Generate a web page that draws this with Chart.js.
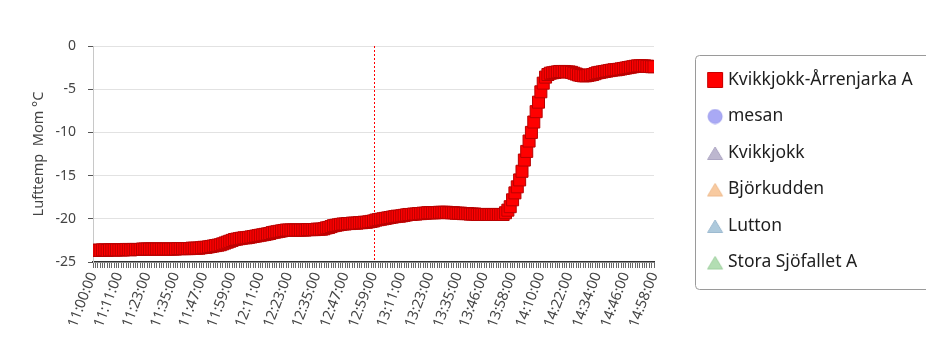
<!DOCTYPE html>
<html><head><meta charset="utf-8">
<script src="https://cdn.jsdelivr.net/npm/chart.js@4/dist/chart.umd.min.js"></script>
<style>html,body{margin:0;padding:0;background:#fff;overflow:hidden}#wrap{width:926px;height:340px}</style>
</head><body><div id="wrap"><canvas id="c" width="926" height="340"></canvas></div>
<script>
// ---- data ----
const firstMinute = "11:00";
const lastMinute = "14:58";
const categories = [];
(function () {
  const [h0, m0] = firstMinute.split(':').map(Number);
  const [h1, m1] = lastMinute.split(':').map(Number);
  for (let m = h0 * 60 + m0; m <= h1 * 60 + m1; m++) {
    categories.push(String(Math.floor(m / 60)).padStart(2, '0') + ':' + String(m % 60).padStart(2, '0') + ':00');
  }
})();
const tickLabels = ["11:00:00","11:11:00","11:23:00","11:35:00","11:47:00","11:59:00","12:11:00","12:23:00","12:35:00","12:47:00","12:59:00","13:11:00","13:23:00","13:35:00","13:46:00","13:58:00","14:10:00","14:22:00","14:34:00","14:46:00","14:58:00"];
const yTicks = [0, -5, -10, -15, -20, -25];
const seriesNames = ["Kvikkjokk-Årrenjarka A", "mesan", "Kvikkjokk", "Björkudden", "Lutton", "Stora Sjöfallet A"];
const kvikkjokkArrenjarka = [
  -23.65,-23.65,-23.65,-23.65,-23.6,-23.6,-23.65,-23.6,-23.6,-23.6,
  -23.6,-23.6,-23.6,-23.6,-23.55,-23.55,-23.6,-23.55,-23.55,-23.55,
  -23.55,-23.5,-23.5,-23.5,-23.5,-23.5,-23.5,-23.5,-23.5,-23.5,
  -23.5,-23.5,-23.5,-23.5,-23.5,-23.5,-23.45,-23.45,-23.45,-23.45,
  -23.45,-23.45,-23.4,-23.4,-23.4,-23.4,-23.35,-23.3,-23.3,-23.25,
  -23.2,-23.15,-23.1,-23.05,-23.0,-22.9,-22.8,-22.7,-22.6,-22.5,
  -22.4,-22.35,-22.3,-22.25,-22.2,-22.2,-22.15,-22.1,-22.05,-22.0,
  -21.95,-21.9,-21.85,-21.8,-21.75,-21.7,-21.6,-21.55,-21.5,-21.45,
  -21.4,-21.35,-21.3,-21.3,-21.3,-21.3,-21.3,-21.3,-21.3,-21.3,
  -21.3,-21.25,-21.25,-21.25,-21.25,-21.2,-21.2,-21.2,-21.15,-21.05,
  -21.0,-20.9,-20.8,-20.75,-20.7,-20.65,-20.6,-20.6,-20.55,-20.55,
  -20.5,-20.5,-20.5,-20.45,-20.45,-20.4,-20.4,-20.35,-20.3,-20.25,
  -20.15,-20.1,-20.05,-20.0,-19.95,-19.9,-19.85,-19.8,-19.75,-19.7,
  -19.7,-19.65,-19.6,-19.55,-19.5,-19.5,-19.45,-19.45,-19.4,-19.4,
  -19.35,-19.35,-19.3,-19.3,-19.3,-19.3,-19.3,-19.25,-19.25,-19.25,
  -19.25,-19.3,-19.3,-19.3,-19.35,-19.35,-19.35,-19.4,-19.4,-19.4,
  -19.45,-19.45,-19.45,-19.5,-19.5,-19.5,-19.5,-19.5,-19.5,-19.5,
  -19.5,-19.5,-19.5,-19.5,-19.5,-19.3,-19.0,-18.6,-17.8,-17.0,
  -16.3,-15.5,-14.5,-13.2,-12.2,-11.0,-10.0,-8.8,-7.6,-6.5,
  -5.3,-4.3,-3.6,-3.3,-3.15,-3.1,-3.05,-3.0,-2.95,-2.95,
  -2.95,-3.0,-3.0,-3.05,-3.15,-3.25,-3.35,-3.4,-3.45,-3.45,
  -3.4,-3.35,-3.3,-3.2,-3.1,-3.05,-3.0,-2.95,-2.9,-2.85,
  -2.8,-2.75,-2.75,-2.7,-2.65,-2.6,-2.55,-2.5,-2.45,-2.4,
  -2.35,-2.3,-2.3,-2.3,-2.3,-2.35,-2.35,-2.4,-2.4
];
const mesan = [];
const kvikkjokk = [];
const bjorkudden = [];
const lutton = [];
const storaSjofallet = [];
const markerTime = "12:59:00";

// ---- legend icons (icon drawn right of the image centre) ----
function makeIcon(shape, fill, stroke) {
  const c = document.createElement('canvas');
  c.width = 56; c.height = 16;
  const g = c.getContext('2d');
  g.translate(39, 0);
  g.fillStyle = fill; g.strokeStyle = stroke; g.lineWidth = 1;
  g.beginPath();
  if (shape === 'rect') { g.rect(0.5, 0.5, 15, 15); }
  else if (shape === 'circle') { g.arc(8, 8, 7, 0, Math.PI * 2); }
  else { g.moveTo(8, 2); g.lineTo(15.5, 14.5); g.lineTo(0.5, 14.5); g.closePath(); }
  g.fill(); g.stroke();
  return c;
}
const icons = [
  makeIcon('rect', '#ff0000', '#c80000'),
  makeIcon('circle', '#a9a9f5', '#9c9cec'),
  makeIcon('tri', '#bdb7cf', '#aca5c2'),
  makeIcon('tri', '#f8caa0', '#eebb8e'),
  makeIcon('tri', '#adc9dc', '#9dbad0'),
  makeIcon('tri', '#b3deb3', '#a0d0a0')
];

const markerPlugin = {
  id: 'markerLine',
  beforeDatasetsDraw(chart) {
    const xs = chart.scales.x;
    const x = Math.round(xs.getPixelForValue(categories.indexOf(markerTime))) + 0.5;
    const {top, bottom} = chart.chartArea;
    const g = chart.ctx;
    g.save();
    g.strokeStyle = '#ff0000'; g.lineWidth = 1; g.setLineDash([2, 2]);
    g.beginPath(); g.moveTo(x, top); g.lineTo(x, bottom); g.stroke();
    g.restore();
  }
};
const legendBox = {
  id: 'legendBox',
  afterLayout(chart) {
    // let the legend text run to the canvas edge instead of being clipped
    chart.legend.right = chart.width;
    chart.legend.width = chart.legend.right - chart.legend.left;
  },
  afterDraw(chart) {
    const hb = chart.legend.legendHitBoxes;
    if (!hb || !hb.length) return;
    const g = chart.ctx;
    const left = Math.round(chart.legend.left + 41) + 0.5;
    const top = Math.round(hb[0].top + hb[0].height / 2 - 25) + 0.5;
    const bottom = Math.round(hb[hb.length - 1].top + hb[hb.length - 1].height / 2 + 26) + 0.5;
    g.save();
    g.strokeStyle = '#9a9a9a'; g.lineWidth = 1;
    g.beginPath();
    g.roundRect(left, top, 300, bottom - top, 4);
    g.stroke();
    g.restore();
  }
};

const sets = [kvikkjokkArrenjarka, mesan, kvikkjokk, bjorkudden, lutton, storaSjofallet];
new Chart(document.getElementById('c'), {
  type: 'line',
  data: {
    labels: categories,
    datasets: sets.map((d, i) => ({
      label: seriesNames[i],
      data: d,
      showLine: false,
      pointStyle: i === 0 ? 'rect' : (i === 1 ? 'circle' : 'triangle'),
      pointRadius: 8.5,
      pointBackgroundColor: i === 0 ? '#ff0000' : '#aaa',
      pointBorderColor: i === 0 ? '#b80000' : '#999',
      pointBorderWidth: 1,
      borderColor: '#b80000',
      backgroundColor: '#ff0000',
      clip: 0
    }))
  },
  options: {
    responsive: false,
    animation: false,
    layout: { padding: { top: 2.5, right: 54, left: 0, bottom: 0 } },
    plugins: {
      tooltip: { enabled: false },
      legend: {
        position: 'right',
        labels: {
          usePointStyle: true,
          pointStyleWidth: 46.25, boxHeight: 16,
          padding: 19,
          color: '#1e1e1e',
          font: { family: 'Noto Sans', size: 17.5 },
          generateLabels: (chart) => seriesNames.map((n, i) => ({
            text: n, pointStyle: icons[i], fillStyle: '#fff', strokeStyle: '#fff',
            lineWidth: 0, hidden: false, datasetIndex: i, fontColor: '#1e1e1e'
          }))
        }
      }
    },
    scales: {
      x: {
        type: 'category',
        grid: { drawOnChartArea: false, drawTicks: true, tickLength: 6, color: '#666', tickColor: '#666' },
        border: { color: '#333', width: 1.5 },
        ticks: {
          autoSkip: false, minRotation: 69, maxRotation: 69, padding: 2,
          color: '#444', font: { family: 'Noto Sans', size: 14.5 },
          callback: function (v) { const l = this.getLabelForValue(v); return tickLabels.includes(l) ? l : ''; }
        },
        afterFit: (s) => { s.height = 78; }
      },
      topSpace: {
        type: 'linear', position: 'top', display: true,
        ticks: { display: false }, grid: { display: false }, border: { display: false },
        afterFit: (s) => { s.height = 43.5; }
      },
      y: {
        min: Math.min(...yTicks), max: Math.max(...yTicks),
        ticks: { stepSize: 5, padding: 12, color: '#444', font: { family: 'Noto Sans', size: 14 } },
        grid: { color: '#e2e2e2', tickColor: '#555', tickLength: 5 },
        border: { color: '#c8c8c8' },
        title: { display: true, text: 'Lufttemp  Mom °C', color: '#444', font: { family: 'Noto Sans', size: 14.5 }, padding: { top: 30 } },
        afterFit: (s) => { s.width = 93; }
      }
    }
  },
  plugins: [markerPlugin, legendBox]
});
</script></body></html>
